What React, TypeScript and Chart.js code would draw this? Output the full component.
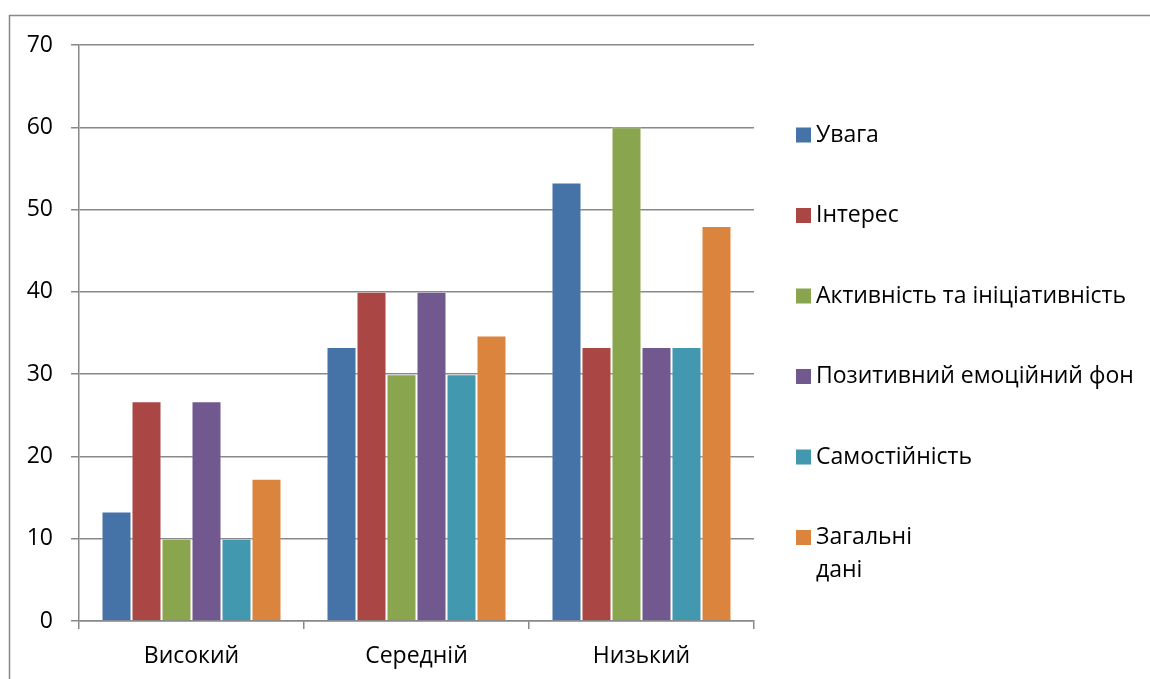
import React, { useEffect, useRef } from "react";
import { Chart, registerables } from "chart.js";

Chart.register(...registerables);

const categories = ["Високий", "Середній", "Низький"];
const seriesNames = [
  "Увага",
  "Інтерес",
  "Активність та ініціативність",
  "Позитивний емоційний фон",
  "Самостійність",
  "Загальні\nдані",
];
const uvaga = [13.3, 33.3, 53.3];
const interes = [26.7, 40, 33.3];
const aktyvnist = [10, 30, 60];
const pozytyvnyi = [26.7, 40, 33.3];
const samostiinist = [10, 30, 33.3];
const zahalni = [17.3, 34.7, 48];
const seriesColors = ["#4572A7", "#AA4643", "#89A54E", "#71588F", "#4198AF", "#DB843D"];
const yTicks = [0, 10, 20, 30, 40, 50, 60, 70];

const FONT = "'Open Sans', 'Noto Sans', sans-serif";
const FONT_SIZE = 23;
const AXIS_GRAY = "#888888";

const legendAndFrame = {
  id: "legendAndFrame",
  afterDraw(chart: any) {
    const ctx = chart.ctx;
    ctx.save();
    // outer frame
    ctx.strokeStyle = AXIS_GRAY;
    ctx.lineWidth = 1.5;
    ctx.beginPath();
    ctx.moveTo(9.5, 690);
    ctx.lineTo(9.5, 15.5);
    ctx.lineTo(1160, 15.5);
    ctx.stroke();
    // legend
    ctx.font = `${FONT_SIZE}px ${FONT}`;
    ctx.textBaseline = "middle";
    ctx.textAlign = "left";
    chart.data.datasets.forEach((ds: any, i: number) => {
      const cy = 135 + i * 80.5;
      ctx.fillStyle = ds.backgroundColor;
      ctx.fillRect(796, cy - 7.5, 15, 15);
      ctx.fillStyle = "#000";
      const lines = String(ds.label).split("\n");
      lines.forEach((ln: string, j: number) => {
        ctx.fillText(ln, 816, cy + j * 33);
      });
    });
    ctx.restore();
  },
};

export default function App() {
  const ref = useRef<HTMLCanvasElement | null>(null);
  useEffect(() => {
    if (!ref.current) return;
    const values = [uvaga, interes, aktyvnist, pozytyvnyi, samostiinist, zahalni];
    const chart = new Chart(ref.current, {
      type: "bar",
      data: {
        labels: categories,
        datasets: seriesNames.map((name, i) => ({
          label: name,
          data: values[i],
          backgroundColor: seriesColors[i],
          borderColor: "rgba(255,255,255,0.35)",
          borderWidth: 1,
          categoryPercentage: 0.8,
          barPercentage: 1.0,
        })),
      },
      options: {
        responsive: false,
        animation: false,
        devicePixelRatio: 1,
        layout: { padding: { top: 45, right: 396, bottom: 0, left: 0 } },
        plugins: { legend: { display: false }, tooltip: { enabled: false } },
        scales: {
          x: {
            grid: {
              offset: true,
              drawOnChartArea: false,
              drawTicks: true,
              tickLength: 8,
              color: AXIS_GRAY,
              lineWidth: 1.5,
            },
            border: { display: true, color: AXIS_GRAY, width: 1.5 },
            ticks: { color: "#000", font: { family: FONT, size: FONT_SIZE }, padding: 14 },
            afterFit: (scale: any) => {
              scale.height = 58;
            },
          },
          y: {
            min: 0,
            max: 70,
            afterBuildTicks: (scale: any) => {
              scale.ticks = yTicks.map((v) => ({ value: v }));
            },
            grid: {
              color: AXIS_GRAY,
              lineWidth: 1.5,
              drawTicks: true,
              tickLength: 8,
            },
            border: { display: true, color: AXIS_GRAY, width: 1.5 },
            ticks: { color: "#000", font: { family: FONT, size: FONT_SIZE }, padding: 18 },
            afterFit: (scale: any) => {
              scale.width = 79;
            },
          },
        },
      },
      plugins: [legendAndFrame],
    });
    return () => chart.destroy();
  }, []);
  return (
    <div style={{ position: "absolute", left: 0, top: 0, width: 1150, height: 679, background: "#fff" }}>
      <canvas ref={ref} width={1150} height={679} style={{ display: "block" }} />
    </div>
  );
}
